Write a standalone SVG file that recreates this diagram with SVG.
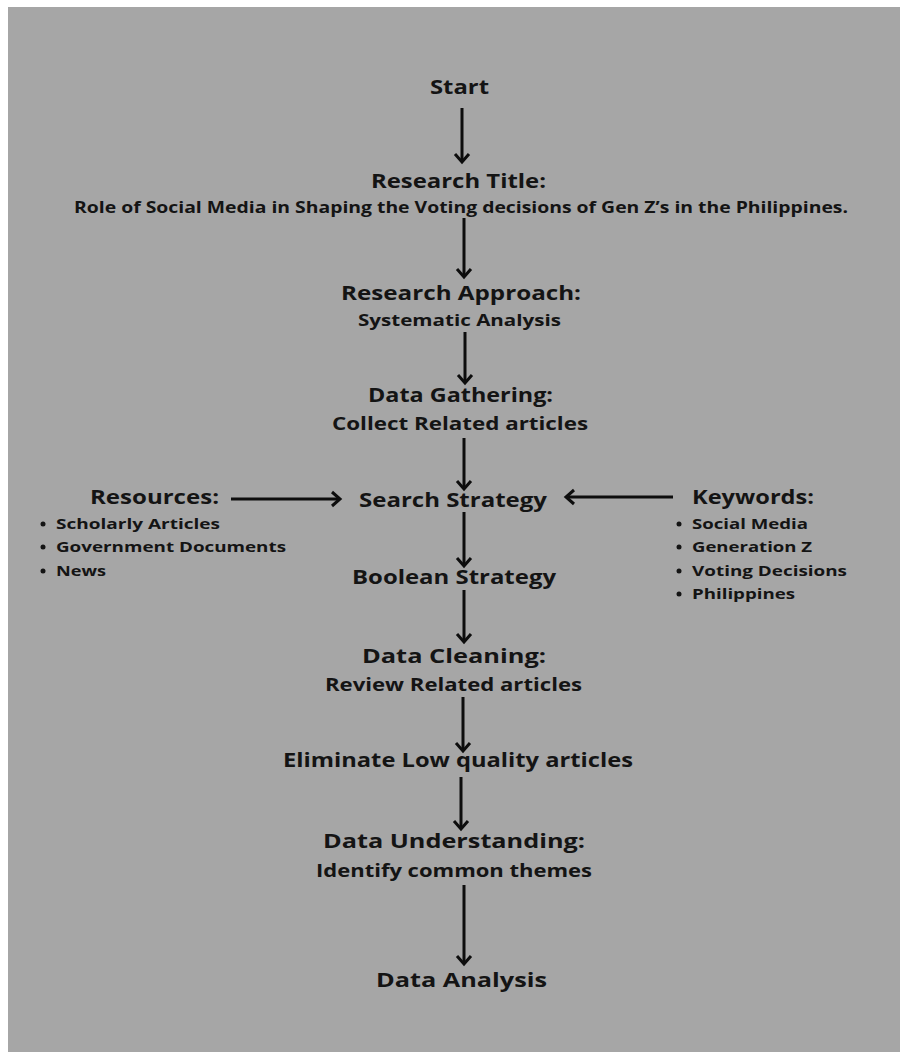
<svg xmlns="http://www.w3.org/2000/svg" width="900" height="1052" viewBox="0 0 900 1052">
<style>
.t{font-family:"Open Sans","Noto Sans","DejaVu Sans",sans-serif;font-weight:700;fill:#141414;text-anchor:middle}
.h{font-size:20px}
.s{font-size:18px}
.m{font-size:16px}
.b{font-family:"Open Sans","Noto Sans","DejaVu Sans",sans-serif;font-weight:700;fill:#141414;font-size:15px}
.c{stroke:#0d0d0d;stroke-width:3;fill:none}
.dot{fill:#141414}
</style>
<defs>
<marker id="ah" markerUnits="userSpaceOnUse" markerWidth="20" markerHeight="20" viewBox="-12 -10 14 20" refX="0" refY="0" orient="auto">
<path d="M-8,-7 L0,0 L-8,7" fill="none" stroke="#0d0d0d" stroke-width="3" stroke-linejoin="miter"/>
</marker>
</defs>
<rect x="0" y="0" width="900" height="1052" fill="#ffffff"/>
<rect x="8" y="7" width="892" height="1045" fill="#a6a6a6"/>

<g id="connectors">
<line class="c" x1="462" y1="108" x2="462" y2="162" marker-end="url(#ah)"/>
<line class="c" x1="464" y1="218" x2="464" y2="277" marker-end="url(#ah)"/>
<line class="c" x1="465" y1="332" x2="465" y2="383" marker-end="url(#ah)"/>
<line class="c" x1="464" y1="438" x2="464" y2="489" marker-end="url(#ah)"/>
<line class="c" x1="464" y1="512" x2="464" y2="566" marker-end="url(#ah)"/>
<line class="c" x1="464" y1="590" x2="464" y2="642" marker-end="url(#ah)"/>
<line class="c" x1="463" y1="697" x2="463" y2="751" marker-end="url(#ah)"/>
<line class="c" x1="461" y1="777" x2="461" y2="829" marker-end="url(#ah)"/>
<line class="c" x1="464" y1="885" x2="464" y2="964" marker-end="url(#ah)"/>
<line class="c" x1="231" y1="499" x2="340" y2="499" marker-end="url(#ah)"/>
<line class="c" x1="673" y1="497" x2="566" y2="497" marker-end="url(#ah)"/>
</g>

<g id="start"><text class="t h" x="459.5" y="94" textLength="59" lengthAdjust="spacingAndGlyphs">Start</text></g>
<g id="research-title">
<text class="t h" x="458.5" y="188" textLength="175" lengthAdjust="spacingAndGlyphs">Research Title:</text>
<text class="t m" x="461" y="213" textLength="774" lengthAdjust="spacingAndGlyphs">Role of Social Media in Shaping the Voting decisions of Gen Z’s in the Philippines.</text>
</g>
<g id="research-approach">
<text class="t h" x="461" y="300" textLength="240" lengthAdjust="spacingAndGlyphs">Research Approach:</text>
<text class="t m" x="459.5" y="326" textLength="203" lengthAdjust="spacingAndGlyphs">Systematic Analysis</text>
</g>
<g id="data-gathering">
<text class="t h" x="460.5" y="402" textLength="185" lengthAdjust="spacingAndGlyphs">Data Gathering:</text>
<text class="t s" x="460" y="430" textLength="256" lengthAdjust="spacingAndGlyphs">Collect Related articles</text>
</g>
<g id="search-strategy"><text class="t h" x="453" y="507" textLength="188" lengthAdjust="spacingAndGlyphs">Search Strategy</text></g>
<g id="resources">
<text class="t h" x="154.5" y="504" textLength="129" lengthAdjust="spacingAndGlyphs">Resources:</text>
<circle class="dot" cx="43" cy="524" r="2.5"/>
<text class="b" x="56" y="529" textLength="164" lengthAdjust="spacingAndGlyphs">Scholarly Articles</text>
<circle class="dot" cx="43" cy="547" r="2.5"/>
<text class="b" x="56" y="552" textLength="230" lengthAdjust="spacingAndGlyphs">Government Documents</text>
<circle class="dot" cx="43" cy="571" r="2.5"/>
<text class="b" x="56" y="576" textLength="50" lengthAdjust="spacingAndGlyphs">News</text>
</g>
<g id="keywords">
<text class="t h" x="753" y="504" textLength="122" lengthAdjust="spacingAndGlyphs">Keywords:</text>
<circle class="dot" cx="679" cy="524" r="2.5"/>
<text class="b" x="692" y="529" textLength="116" lengthAdjust="spacingAndGlyphs">Social Media</text>
<circle class="dot" cx="679" cy="547" r="2.5"/>
<text class="b" x="692" y="552" textLength="120" lengthAdjust="spacingAndGlyphs">Generation Z</text>
<circle class="dot" cx="679" cy="571" r="2.5"/>
<text class="b" x="692" y="576" textLength="155" lengthAdjust="spacingAndGlyphs">Voting Decisions</text>
<circle class="dot" cx="679" cy="594" r="2.5"/>
<text class="b" x="692" y="599" textLength="103" lengthAdjust="spacingAndGlyphs">Philippines</text>
</g>
<g id="boolean-strategy"><text class="t h" x="454" y="584" textLength="204" lengthAdjust="spacingAndGlyphs">Boolean Strategy</text></g>
<g id="data-cleaning">
<text class="t h" x="454" y="663" textLength="184" lengthAdjust="spacingAndGlyphs">Data Cleaning:</text>
<text class="t s" x="453.5" y="691" textLength="257" lengthAdjust="spacingAndGlyphs">Review Related articles</text>
</g>
<g id="eliminate"><text class="t h" x="458" y="767" textLength="350" lengthAdjust="spacingAndGlyphs">Eliminate Low quality articles</text></g>
<g id="data-understanding">
<text class="t h" x="454" y="848" textLength="262" lengthAdjust="spacingAndGlyphs">Data Understanding:</text>
<text class="t s" x="454" y="877" textLength="276" lengthAdjust="spacingAndGlyphs">Identify common themes</text>
</g>
<g id="data-analysis"><text class="t h" x="461.5" y="987" textLength="171" lengthAdjust="spacingAndGlyphs">Data Analysis</text></g>
</svg>
